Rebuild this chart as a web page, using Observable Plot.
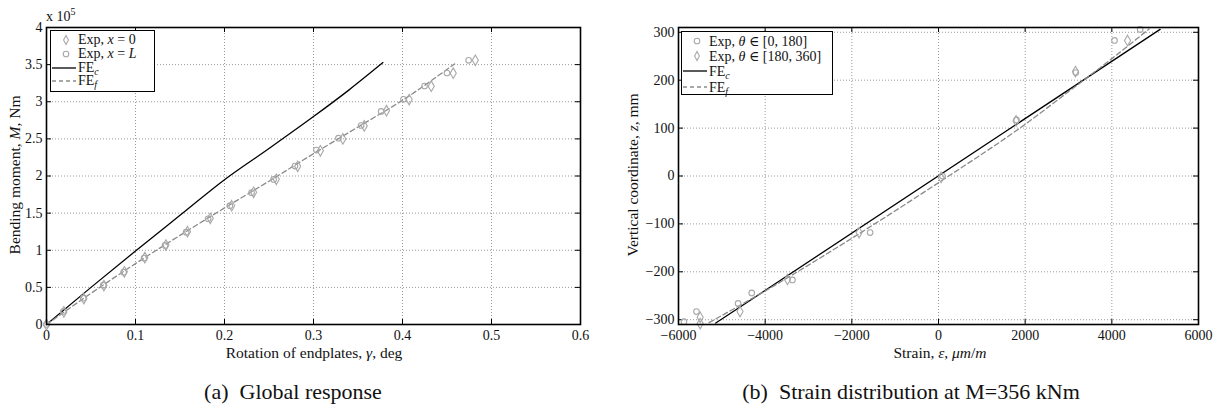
<!DOCTYPE html>
<html>
<head>
<meta charset="utf-8">
<script src="https://cdn.jsdelivr.net/npm/d3@7"></script>
<script src="https://cdn.jsdelivr.net/npm/@observablehq/plot@0.6"></script>
<style>
  html, body { margin: 0; padding: 0; background: #fff; }
  #wrap { position: relative; width: 1220px; height: 408px; overflow: hidden; font-family: "Liberation Serif", "Tinos", "Times New Roman", "Times", "Noto Serif", "DejaVu Serif", "FreeSerif", "Nimbus Roman", serif; color: #111; }
  .abs { position: absolute; white-space: nowrap; }
  .c { transform: translate(-50%, -50%); }
  .rot { transform: translate(-50%, -50%) rotate(-90deg); }
  .lab { font-size: 15.5px; }
  .small { font-size: 14px; }
  .cap { font-size: 22px; }
  .legend { position: absolute; border: 1.5px solid #000; background: #fff; font-size: 14px; box-sizing: border-box; }
  .legend .row { position: relative; height: 14px; line-height: 14px; }
  .legend svg { position: absolute; left: 0; top: 0; }
  .legend .txt { position: absolute; left: 27px; top: 0; }
  sub { font-size: 10px; vertical-align: -3px; line-height: 0; }
  sup { font-size: 10px; vertical-align: 6px; line-height: 0; }
</style>
</head>
<body>
<div id="wrap"></div>
<script>
// ---------------- DATA ----------------
// (a) Global response : rotation of endplates (deg) vs bending moment (Nm)
const rotTicks = [0, 0.1, 0.2, 0.3, 0.4, 0.5, 0.6];
const momTicks = [0, 0.5e5, 1e5, 1.5e5, 2e5, 2.5e5, 3e5, 3.5e5, 4e5];

const feCRot = [0, 0.05, 0.1, 0.15, 0.2, 0.25, 0.3, 0.34, 0.378];
const feCMom = [0, 0.5e5, 0.99e5, 1.47e5, 1.95e5, 2.37e5, 2.8e5, 3.16e5, 3.527e5];

const feFRot = [0, 0.05, 0.1, 0.15, 0.2, 0.25, 0.3, 0.35, 0.4, 0.4585];
const feFMom = [0, 0.42e5, 0.82e5, 1.2e5, 1.57e5, 1.93e5, 2.3e5, 2.66e5, 3.02e5, 3.51e5];

// Exp, x = L (circles)
const expLRot = [0, 0.0188, 0.0413, 0.0638, 0.0867, 0.1096, 0.1332, 0.1569, 0.1816, 0.206, 0.2304, 0.2552, 0.2792, 0.3032, 0.328, 0.3535, 0.376, 0.4011, 0.4248, 0.450, 0.4743];
const expLMom = [0, 0.175e5, 0.355e5, 0.53e5, 0.705e5, 0.894e5, 1.065e5, 1.244e5, 1.424e5, 1.6e5, 1.775e5, 1.954e5, 2.133e5, 2.349e5, 2.51e5, 2.68e5, 2.87e5, 3.032e5, 3.212e5, 3.387e5, 3.558e5];
// Exp, x = 0 (diamonds)
const exp0Rot = [0, 0.0195, 0.042, 0.0645, 0.0875, 0.1105, 0.1342, 0.1584, 0.184, 0.208, 0.2327, 0.2582, 0.2822, 0.3077, 0.333, 0.357, 0.382, 0.4075, 0.4323, 0.457, 0.4818];
const exp0Mom = [0, 0.17e5, 0.35e5, 0.525e5, 0.71e5, 0.9e5, 1.07e5, 1.25e5, 1.43e5, 1.6e5, 1.78e5, 1.955e5, 2.13e5, 2.34e5, 2.5e5, 2.675e5, 2.88e5, 3.03e5, 3.21e5, 3.385e5, 3.558e5];

// (b) Strain distribution at M=356 kNm : strain (um/m) vs vertical coordinate z (mm)
const strainTicks = [-6000, -4000, -2000, 0, 2000, 4000, 6000];
const zTicks = [-300, -200, -100, 0, 100, 200, 300];

const feCStrain = [-5140, 5114];
const feCZ = [-307, 306];

const feFStrain = [-5294, -4000, -2000, 0, 2000, 3000, 4000, 4860];
const feFZ = [-306, -240, -130, -14, 108, 176, 245, 307];

// Exp, theta in [0,180] (circles)
const expAStrain = [-5875, -5585, -4625, -4310, -3370, -1578, 92, 1800, 3169, 4062, 4654];
const expAZ = [-304, -283, -266, -244, -217, -118, 0, 117, 216, 283, 306];
// Exp, theta in [180,360] (diamonds)
const expBStrain = [-5500, -5500, -4580, -3485, -1832, 60, 1790, 3160, 4362];
const expBZ = [-295, -308, -283, -216, -118, -3, 115, 218, 283];

// ---------------- helpers ----------------
const zip = (xs, ys) => xs.map((x, i) => ({x, y: ys[i]}));
const minus = d => (d < 0 ? "\u2212" + (-d) : String(d));
const GRID = {stroke: "#9a9a9a", strokeOpacity: 1, strokeDasharray: "1,2", strokeWidth: 1};
const MARK = "#a8a8a8";
const DASH = "#8a8a8a";
const FONT = "'Liberation Serif', 'Tinos', 'Times New Roman', 'Times', 'Noto Serif', 'DejaVu Serif', 'FreeSerif', serif";

function panel({width, height, ml, mr, mt, mb, xDomain, yDomain, xTicks, yTicks, xFmt, yFmt, marks}) {
  const pw = width - ml - mr, ph = height - mt - mb;
  return Plot.plot({
    width, height,
    marginLeft: ml, marginRight: mr, marginTop: mt, marginBottom: mb,
    style: {fontFamily: FONT, fontSize: "14px", background: "transparent", color: "#111", overflow: "visible"},
    x: {domain: xDomain},
    y: {domain: yDomain},
    marks: [
      Plot.gridX(xTicks, GRID),
      Plot.gridY(yTicks, GRID),
      Plot.axisX(xTicks, {tickSize: 0, tickPadding: 6, tickFormat: xFmt, label: null, fontSize: 14}),
      Plot.axisY(yTicks, {tickSize: 0, tickPadding: 4, tickFormat: yFmt, label: null, fontSize: 14}),
      Plot.tickX(xTicks, {x: d => d, insetTop: ph - 5, stroke: "#000"}),
      Plot.tickX(xTicks, {x: d => d, insetBottom: ph - 5, stroke: "#000"}),
      Plot.tickY(yTicks, {y: d => d, insetRight: pw - 5, stroke: "#000"}),
      Plot.tickY(yTicks, {y: d => d, insetLeft: pw - 5, stroke: "#000"}),
      ...marks,
      Plot.frame({stroke: "#000", strokeWidth: 1.6})
    ]
  });
}

const wrap = document.getElementById("wrap");
function place(node, left, top) {
  node.style.position = "absolute";
  node.style.left = left + "px";
  node.style.top = top + "px";
  wrap.appendChild(node);
}
function text(html, x, y, cls) {
  const d = document.createElement("div");
  d.className = "abs " + cls;
  d.style.left = x + "px";
  d.style.top = y + "px";
  d.innerHTML = html;
  wrap.appendChild(d);
  return d;
}

// ---------------- panel (a) ----------------
const chartA = panel({
  width: 610, height: 360, ml: 46, mr: 30, mt: 27, mb: 36,
  xDomain: [0, 0.6], yDomain: [0, 4e5],
  xTicks: rotTicks, yTicks: momTicks,
  xFmt: d => String(d), yFmt: d => String(d / 1e5),
  marks: [
    Plot.line(zip(feCRot, feCMom), {x: "x", y: "y", stroke: "#000", strokeWidth: 1.3, curve: "monotone-x"}),
    Plot.line(zip(feFRot, feFMom), {x: "x", y: "y", stroke: DASH, strokeWidth: 1.3, strokeDasharray: "5,3", curve: "monotone-x"}),
    Plot.dot(zip(expLRot, expLMom), {x: "x", y: "y", r: 2.8, symbol: "circle", stroke: MARK, strokeWidth: 1.1, fill: "none"}),
    Plot.dot(zip(exp0Rot, exp0Mom), {x: "x", y: "y", r: 3.2, symbol: "diamond", stroke: MARK, strokeWidth: 1.1, fill: "none"})
  ]
});
place(chartA, 0, 0);

// ---------------- panel (b) ----------------
const chartB = panel({
  width: 610, height: 360, ml: 68, mr: 22, mt: 27, mb: 36,
  xDomain: [-6000, 6000], yDomain: [-310, 310],
  xTicks: strainTicks, yTicks: zTicks,
  xFmt: minus, yFmt: minus,
  marks: [
    Plot.line(zip(feCStrain, feCZ), {x: "x", y: "y", stroke: "#000", strokeWidth: 1.3}),
    Plot.line(zip(feFStrain, feFZ), {x: "x", y: "y", stroke: DASH, strokeWidth: 1.3, strokeDasharray: "5,3", curve: "monotone-x"}),
    Plot.dot(zip(expAStrain, expAZ), {x: "x", y: "y", r: 2.8, symbol: "circle", stroke: MARK, strokeWidth: 1.1, fill: "none"}),
    Plot.dot(zip(expBStrain, expBZ), {x: "x", y: "y", r: 3.2, symbol: "diamond", stroke: MARK, strokeWidth: 1.1, fill: "none"})
  ]
});
place(chartB, 610, 0);

// ---------------- text ----------------
text("x 10<sup>5</sup>", 46, 9, "small");
text("Bending moment, <i>M</i>, Nm", 15, 175, "lab rot");
text("Rotation of endplates, <i>\u03b3</i>, deg", 314, 353, "lab c");
text("Vertical coordinate, <i>z</i>, mm", 633, 175, "lab rot");
text("Strain, <i>\u03b5</i>, <i>\u03bcm</i>/<i>m</i>", 940, 353, "lab c");
text("(a)&nbsp; Global response", 293, 392, "cap c");
text("(b)&nbsp; Strain distribution at M=356 kNm", 911, 392, "cap c");

// ---------------- legends ----------------
function sym(kind) {
  const s = `<svg width="27" height="14" viewBox="0 0 27 14">`;
  if (kind === "circle") return s + `<circle cx="15" cy="7" r="2.8" fill="none" stroke="${MARK}" stroke-width="1.1"/></svg>`;
  if (kind === "diamond") return s + `<path d="M15,2.5 L17.4,7 L15,11.5 L12.6,7 Z" fill="none" stroke="${MARK}" stroke-width="1.1"/></svg>`;
  if (kind === "solid") return s + `<line x1="1" x2="25" y1="7" y2="7" stroke="#000" stroke-width="1.3"/></svg>`;
  return s + `<line x1="1" x2="25" y1="7" y2="7" stroke="${DASH}" stroke-width="1.3" stroke-dasharray="4,3"/></svg>`;
}
function legend(left, top, w, h, rows, gap) {
  const L = document.createElement("div");
  L.className = "legend";
  L.style.left = left + "px"; L.style.top = top + "px";
  L.style.width = w + "px"; L.style.height = h + "px";
  L.style.paddingTop = "2px";
  rows.forEach(([k, html]) => {
    const r = document.createElement("div");
    r.className = "row";
    r.style.height = gap + "px";
    r.style.lineHeight = gap + "px";
    r.innerHTML = sym(k) + `<span class="txt">${html}</span>`;
    L.appendChild(r);
  });
  wrap.appendChild(L);
}
legend(50, 30, 105, 62, [
  ["diamond", "Exp, <i>x</i> = 0"],
  ["circle", "Exp, <i>x</i> = <i>L</i>"],
  ["solid", "FE<sub><i>c</i></sub>"],
  ["dashed", "FE<sub><i>f</i></sub>"]
], 13.8);
legend(681, 31, 152, 64, [
  ["circle", "Exp, <i>\u03b8</i> \u2208 [0, 180]"],
  ["diamond", "Exp, <i>\u03b8</i> \u2208 [180, 360]"],
  ["solid", "FE<sub><i>c</i></sub>"],
  ["dashed", "FE<sub><i>f</i></sub>"]
], 15.2);
</script>
</body>
</html>
